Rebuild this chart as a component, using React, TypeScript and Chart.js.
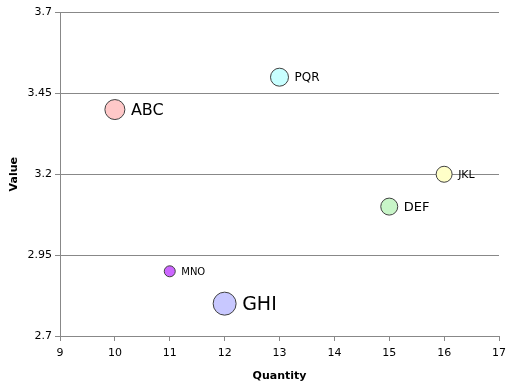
import React, { useEffect, useRef } from "react";
import { Chart, registerables } from "chart.js";

Chart.register(...registerables);

const names = ["ABC", "DEF", "GHI", "JKL", "MNO", "PQR"];
const quantities = [10, 15, 12, 16, 11, 13];
const values = [3.4, 3.1, 2.8, 3.2, 2.9, 3.5];
const radii = [10, 8.5, 11.5, 8, 5.5, 9];
const labelSizes = [16, 13, 19, 11, 10, 12];
const colors = ["#FFC8C8", "#C8F5C8", "#C8C8FF", "#FFFFC8", "#CC66FF", "#C8FFFF"];
const yTicks = [2.7, 2.95, 3.2, 3.45, 3.7];
const xTicks = [9, 10, 11, 12, 13, 14, 15, 16, 17];

const FONT = "Tahoma, 'DejaVu Sans', sans-serif";

const labelPlugin = {
  id: "bubbleLabels",
  afterDatasetsDraw(chart: any) {
    const ctx = chart.ctx;
    const meta = chart.getDatasetMeta(0);
    ctx.save();
    meta.data.forEach((el: any, i: number) => {
      ctx.font = `${labelSizes[i]}px ${FONT}`;
      ctx.fillStyle = "#000";
      ctx.textAlign = "left";
      ctx.textBaseline = "middle";
      ctx.fillText(names[i], el.x + radii[i] + 6, el.y + 1);
    });
    ctx.restore();
  },
};

export default function App() {
  const ref = useRef<HTMLCanvasElement>(null);
  useEffect(() => {
    document.body.style.margin = "0";
    const chart = new Chart(ref.current!, {
      type: "bubble",
      data: {
        datasets: [
          {
            data: names.map((_, i) => ({ x: quantities[i], y: values[i], r: radii[i] })),
            backgroundColor: colors,
            borderColor: "#404040",
            borderWidth: 1,
          },
        ],
      },
      options: {
        animation: false,
        responsive: false,
        layout: { padding: { top: 12, right: 17, left: 8, bottom: 0 } },
        plugins: { legend: { display: false }, tooltip: { enabled: false } },
        scales: {
          x: {
            type: "linear",
            min: 9,
            max: 17,
            afterBuildTicks: (s: any) => {
              s.ticks = xTicks.map((v) => ({ value: v }));
            },
            afterFit: (s: any) => {
              s.height = 47;
            },
            grid: { drawOnChartArea: false, drawTicks: true, tickLength: 5, color: "#888" },
            border: { color: "#888" },
            ticks: { color: "#000", font: { family: FONT, size: 11 }, padding: 6 },
            title: {
              display: true,
              text: "Quantity",
              color: "#000",
              font: { family: FONT, size: 11, weight: "bold" },
              padding: { top: 2, bottom: 0 },
            },
          },
          y: {
            type: "linear",
            min: 2.7,
            max: 3.7,
            afterBuildTicks: (s: any) => {
              s.ticks = yTicks.map((v) => ({ value: v }));
            },
            afterFit: (s: any) => {
              s.width = 52;
            },
            grid: { color: "#888", tickLength: 5 },
            border: { color: "#888" },
            ticks: {
              color: "#000",
              font: { family: FONT, size: 11 },
              padding: 3,
              callback: (v: any) => String(v),
            },
            title: {
              display: true,
              text: "Value",
              color: "#000",
              font: { family: FONT, size: 11, weight: "bold" },
              padding: { top: 0, bottom: 6 },
            },
          },
        },
      },
      plugins: [labelPlugin],
    } as any);
    return () => chart.destroy();
  }, []);
  return (
    <div style={{ width: 516, height: 383, background: "#fff" }}>
      <canvas ref={ref} width={516} height={383} />
    </div>
  );
}
